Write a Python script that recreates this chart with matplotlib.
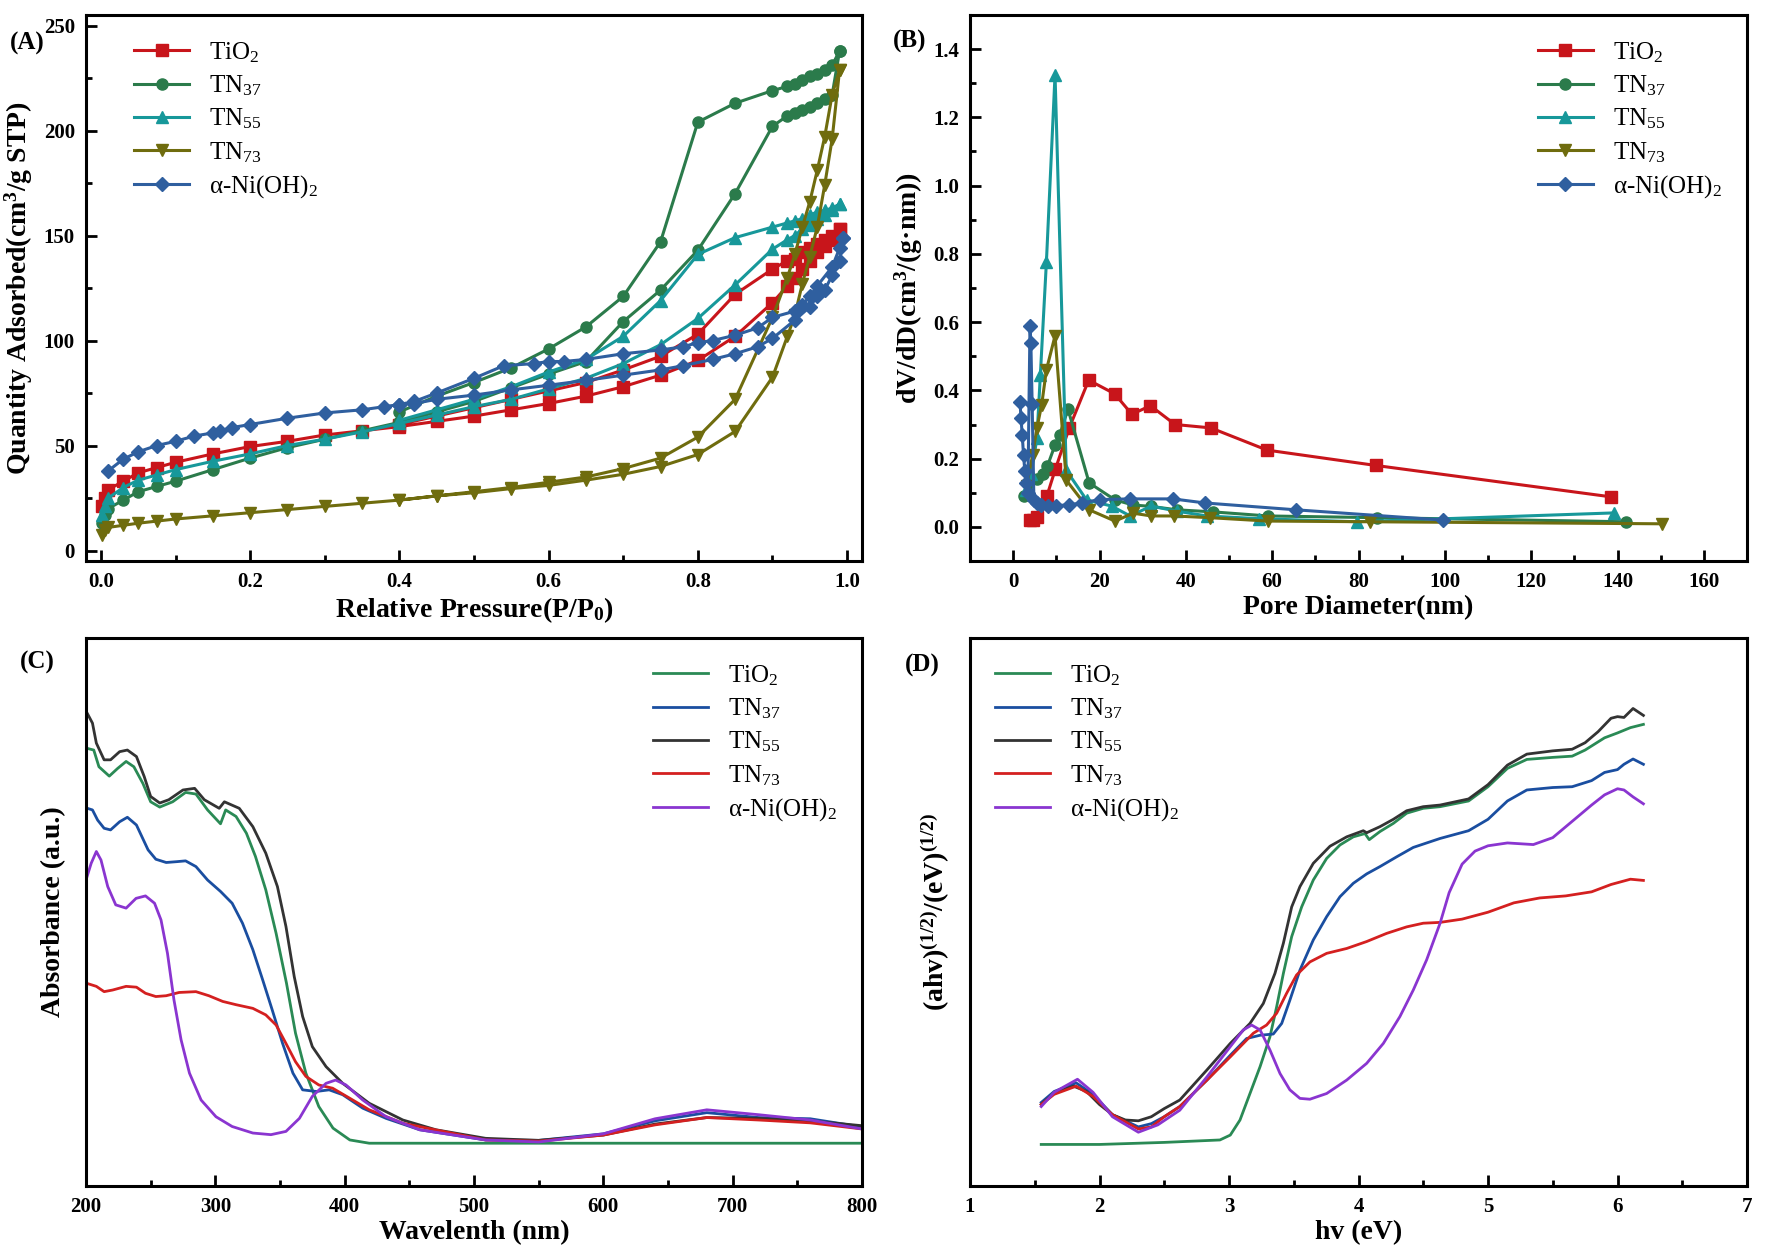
import matplotlib
matplotlib.use('Agg')
import matplotlib.pyplot as plt
from matplotlib.ticker import MultipleLocator

plt.rcParams['font.family'] = ['Liberation Serif', 'DejaVu Serif']
plt.rcParams['mathtext.fontset'] = 'custom'
plt.rcParams['mathtext.rm'] = 'Liberation Serif'
plt.rcParams['mathtext.it'] = 'Liberation Serif:italic'
plt.rcParams['mathtext.bf'] = 'Liberation Serif:bold'

labels = ['TiO$_2$', 'TN$_{37}$', 'TN$_{55}$', 'TN$_{73}$', 'α-Ni(OH)$_2$']

# ---- (A) N2 isotherms ----
p_ads = [0.001, 0.005, 0.01, 0.03, 0.05, 0.075, 0.1, 0.15, 0.2, 0.25, 0.3, 0.35, 0.4, 0.45, 0.5,
         0.55, 0.6, 0.65, 0.7, 0.75, 0.8, 0.85, 0.9, 0.92, 0.93, 0.94, 0.95, 0.96, 0.97, 0.98, 0.99]
p_des = [0.99, 0.98, 0.97, 0.96, 0.95, 0.94, 0.93, 0.92, 0.9, 0.85, 0.8, 0.75, 0.7, 0.65, 0.6,
         0.55, 0.5, 0.45, 0.4]

tio2_ads = [21, 25, 29, 33, 37, 39.5, 42, 46, 49.5, 52, 55, 57, 59, 61.5, 64, 67, 70, 73.5, 78,
            83.5, 90.5, 102, 118, 126, 130, 134, 138, 142, 145, 148, 153]
tio2_des = [153, 150, 148, 146, 144, 142, 139, 138, 134, 122, 103, 92.5, 86, 80, 76, 72, 68, 64, 60]

tn37_ads = [13, 17, 20, 24, 28, 30.5, 33, 38.5, 44, 49, 53, 57, 61, 66, 71, 77.5, 84, 90, 109, 124,
            143, 170, 202, 207, 208.5, 210, 211, 213, 215, 217, 238]
tn37_des = [238, 231, 229, 227, 226, 224, 222, 221, 219, 213, 204, 147, 121, 106.5, 96, 87, 80, 73.5, 66]

tn55_ads = [17, 21, 25, 30, 33.5, 36, 38.5, 42.5, 46, 50, 53, 56.5, 60.5, 64.5, 68.5, 72, 77, 82, 89,
            98, 110.5, 126.5, 143.5, 148, 150, 153, 155, 158, 160, 162, 165]
tn55_des = [165, 163, 162, 161, 160, 158, 157, 156, 154, 149, 141, 119, 102, 91, 85, 78, 72, 67, 62]

tn73_ads = [7.5, 10, 11, 12, 13, 14, 15, 16.5, 18, 19.5, 21, 22.5, 24, 26, 27.5, 29.5, 31, 33.5, 36.3,
            40, 45.7, 56.7, 82.5, 102, 112, 127, 140, 154, 174, 196, 229]
tn73_des = [229, 217, 197, 181, 166, 154, 141, 130, 111, 72, 54, 44, 39, 35, 32.5, 30, 28, 26, 24]

ni_p_ads = [0.01, 0.03, 0.05, 0.075, 0.1, 0.125, 0.15, 0.16, 0.175, 0.2, 0.25, 0.3, 0.35, 0.38, 0.4,
            0.42, 0.45, 0.5, 0.55, 0.6, 0.65, 0.7, 0.75, 0.78, 0.82, 0.85, 0.88, 0.9, 0.93, 0.95,
            0.96, 0.97, 0.98, 0.99, 0.995]
ni_ads = [38, 43.5, 47, 50, 52, 54.5, 56, 57, 58.5, 60, 63, 65.5, 67, 68.5, 69.5, 70, 72, 74, 76.5,
          78.7, 81, 83.5, 86, 88, 91, 93.7, 97, 101, 109.7, 116, 121, 124, 131, 138, 149]
ni_p_des = [0.995, 0.99, 0.98, 0.96, 0.95, 0.94, 0.93, 0.9, 0.88, 0.85, 0.82, 0.8, 0.78, 0.75, 0.7,
            0.65, 0.62, 0.6, 0.58, 0.54, 0.5, 0.45, 0.42, 0.4]
ni_des = [149, 144, 135, 126, 121, 117, 114, 111, 106, 102.5, 100, 99, 97, 95.5, 93.7, 91, 90, 90,
          89, 88, 82, 75, 71, 69.5]

# ---- (B) pore size distribution ----
tio2_d = [3.8, 4.5, 5.5, 7.8, 9.8, 13, 17.5, 23.5, 27.5, 31.8, 37.5, 45.8, 58.8, 84, 138.5]
tio2_v = [0.02, 0.02, 0.03, 0.09, 0.17, 0.29, 0.43, 0.39, 0.33, 0.355, 0.30, 0.29, 0.225, 0.18, 0.088]
tn37_d = [2.6, 3.5, 5.5, 6.8, 7.9, 9.7, 10.8, 12.7, 17.6, 23.6, 27.8, 32, 37.9, 46.2, 59, 84.2, 141.9]
tn37_v = [0.09, 0.10, 0.14, 0.155, 0.177, 0.24, 0.27, 0.345, 0.129, 0.079, 0.064, 0.06, 0.05, 0.044,
          0.032, 0.027, 0.015]
tn55_d = [2.9, 4.2, 5.5, 6.3, 7.7, 9.7, 12.3, 17, 22.8, 27.1, 32, 37.9, 44.9, 56.9, 79.6, 139.3]
tn55_v = [0.108, 0.155, 0.26, 0.446, 0.776, 1.325, 0.166, 0.079, 0.061, 0.032, 0.061, 0.046, 0.032,
          0.024, 0.015, 0.041]
tn73_d = [3.1, 4.5, 5.5, 6.6, 7.7, 9.7, 12.3, 17.6, 23.6, 27.8, 32, 37.2, 45.5, 59, 82.6, 150.4]
tn73_v = [0.12, 0.21, 0.29, 0.357, 0.46, 0.56, 0.137, 0.05, 0.017, 0.04, 0.032, 0.032, 0.027, 0.017,
          0.015, 0.009]
ni_d = [1.6, 1.8, 2.1, 2.4, 2.7, 3.0, 3.4, 3.9, 4.1, 4.4, 4.8, 5.5, 6.5, 8, 10, 13, 16, 20, 27, 37,
        44.5, 65.5, 99.5]
ni_v = [0.365, 0.32, 0.27, 0.21, 0.165, 0.13, 0.10, 0.59, 0.54, 0.36, 0.08, 0.07, 0.065, 0.06, 0.062,
        0.065, 0.07, 0.08, 0.082, 0.082, 0.07, 0.05, 0.02]

# ---- (C) UV-vis absorbance ----
wl_tio2 = [200, 201, 206, 210, 218, 224.5, 231, 237, 244, 250, 257, 267, 277, 285, 294, 304, 308,
           316, 324, 331, 339, 347, 355, 362, 370, 380, 391, 404, 419, 800]
abs_tio2 = [1.08, 1.074, 1.07, 1.029, 1.006, 1.025, 1.042, 1.029, 0.988, 0.943, 0.93, 0.943, 0.966,
            0.962, 0.923, 0.889, 0.923, 0.907, 0.866, 0.809, 0.727, 0.62, 0.498, 0.375, 0.277,
            0.195, 0.142, 0.113, 0.105, 0.105]
wl_tn37 = [200, 205, 209, 214, 219, 226, 232, 239, 248, 254, 262, 270, 277, 285, 294, 304, 313, 321,
           329, 336.6, 344, 352, 360, 367.5, 378, 388, 398.5, 414, 432, 458, 509, 550, 600, 640, 680,
           720, 760, 800]
abs_tn37 = [0.928, 0.923, 0.898, 0.878, 0.874, 0.894, 0.905, 0.886, 0.825, 0.802, 0.794, 0.796, 0.798,
            0.784, 0.751, 0.723, 0.694, 0.645, 0.58, 0.506, 0.432, 0.35, 0.277, 0.236, 0.232, 0.236,
            0.224, 0.191, 0.166, 0.138, 0.113, 0.112, 0.128, 0.16, 0.18, 0.168, 0.165, 0.145]
wl_tn55 = [200, 201, 205, 208, 214, 219, 226, 232, 239, 245, 250, 257, 264, 275, 284, 291.5, 303, 307,
           318.5, 329, 339, 348, 354.6, 361, 367.5, 375, 385.6, 398.5, 419, 445, 470.6, 509, 550,
           600, 640, 680, 720, 760, 800]
abs_tn55 = [1.165, 1.16, 1.136, 1.087, 1.046, 1.046, 1.066, 1.07, 1.054, 1.005, 0.956, 0.94, 0.948,
            0.972, 0.976, 0.948, 0.927, 0.943, 0.927, 0.882, 0.817, 0.735, 0.637, 0.514, 0.416,
            0.342, 0.293, 0.252, 0.203, 0.162, 0.138, 0.117, 0.112, 0.125, 0.152, 0.168, 0.166,
            0.16, 0.148]
wl_tn73 = [200, 208, 214, 220.6, 231, 239, 246, 254, 262, 272, 285, 295, 305.7, 316, 329, 339, 347,
           354.6, 362, 370, 380, 390.7, 403.6, 419, 445, 509, 550, 600, 640, 680, 720, 760, 800]
abs_tn73 = [0.498, 0.49, 0.477, 0.481, 0.49, 0.488, 0.473, 0.465, 0.467, 0.475, 0.477, 0.467, 0.453,
            0.445, 0.436, 0.42, 0.395, 0.35, 0.305, 0.269, 0.248, 0.24, 0.216, 0.187, 0.154, 0.113,
            0.11, 0.125, 0.15, 0.168, 0.162, 0.155, 0.14]
wl_ni = [200, 204, 208, 211.6, 216.8, 223, 231, 238.7, 246, 253, 258, 263, 268, 273.5, 280, 289, 300.5,
         313, 329, 343, 354.6, 365, 375, 385.6, 393, 401, 414, 432, 458, 509, 550, 600, 640, 680,
         720, 760, 800]
abs_ni = [0.751, 0.792, 0.821, 0.80, 0.735, 0.69, 0.682, 0.706, 0.712, 0.694, 0.653, 0.571, 0.457,
          0.359, 0.277, 0.211, 0.17, 0.146, 0.13, 0.126, 0.134, 0.166, 0.22, 0.252, 0.26, 0.248,
          0.211, 0.17, 0.138, 0.113, 0.108, 0.128, 0.165, 0.187, 0.175, 0.162, 0.14]

# ---- (D) Tauc plot ----
ev_tio2 = [1.55, 2.0, 2.5, 2.93, 3.01, 3.085, 3.162, 3.24, 3.316, 3.368, 3.42, 3.484, 3.561, 3.651,
           3.754, 3.857, 3.96, 4.05, 4.083, 4.166, 4.269, 4.372, 4.5, 4.63, 4.85, 5.0, 5.15, 5.3, 5.5,
           5.65, 5.75, 5.9, 6.0, 6.1, 6.2]
tauc_tio2 = [0.102, 0.102, 0.107, 0.113, 0.125, 0.162, 0.227, 0.293, 0.366, 0.44, 0.522, 0.612, 0.685,
             0.751, 0.804, 0.837, 0.857, 0.865, 0.85, 0.87, 0.89, 0.915, 0.927, 0.931, 0.945, 0.98,
             1.025, 1.047, 1.052, 1.055, 1.07, 1.10, 1.112, 1.125, 1.133]
ev_tn37 = [1.55, 1.65, 1.82, 1.95, 2.1, 2.3, 2.4, 2.5, 2.62, 2.83, 3.01, 3.136, 3.24, 3.342, 3.407,
           3.47, 3.548, 3.651, 3.754, 3.857, 3.96, 4.063, 4.166, 4.295, 4.423, 4.63, 4.85, 5.0, 5.15,
           5.3, 5.5, 5.65, 5.8, 5.9, 6.0, 6.05, 6.12, 6.2]
tauc_tn37 = [0.205, 0.232, 0.253, 0.225, 0.175, 0.145, 0.153, 0.17, 0.195, 0.26, 0.321, 0.362, 0.37,
             0.373, 0.399, 0.456, 0.53, 0.604, 0.661, 0.71, 0.743, 0.766, 0.784, 0.808, 0.831, 0.853,
             0.872, 0.90, 0.945, 0.972, 0.978, 0.98, 0.995, 1.015, 1.022, 1.035, 1.048, 1.035]
ev_tn55 = [1.55, 1.65, 1.8, 1.9, 2.0, 2.1, 2.2, 2.3, 2.4, 2.5, 2.62, 2.83, 3.01, 3.162, 3.265, 3.355,
           3.42, 3.484, 3.548, 3.651, 3.78, 3.909, 4.037, 4.063, 4.166, 4.269, 4.372, 4.5, 4.63, 4.85,
           5.0, 5.15, 5.3, 5.5, 5.65, 5.75, 5.85, 5.95, 6.0, 6.05, 6.12, 6.2]
tauc_tn55 = [0.20, 0.228, 0.245, 0.232, 0.20, 0.175, 0.162, 0.16, 0.17, 0.19, 0.211, 0.285, 0.35,
             0.399, 0.448, 0.522, 0.596, 0.685, 0.735, 0.792, 0.834, 0.857, 0.872, 0.867, 0.882, 0.90,
             0.921, 0.931, 0.935, 0.95, 0.985, 1.033, 1.06, 1.068, 1.072, 1.088, 1.115, 1.148, 1.152,
             1.15, 1.172, 1.155]
ev_tn73 = [1.55, 1.65, 1.82, 1.95, 2.1, 2.3, 2.4, 2.5, 2.62, 2.83, 3.01, 3.188, 3.29, 3.368, 3.445,
           3.522, 3.625, 3.754, 3.909, 4.063, 4.217, 4.372, 4.5, 4.63, 4.8, 5.0, 5.2, 5.4, 5.6, 5.8,
           5.95, 6.1, 6.2]
tauc_tn73 = [0.20, 0.225, 0.245, 0.22, 0.175, 0.14, 0.145, 0.17, 0.195, 0.26, 0.317, 0.375, 0.395,
             0.424, 0.473, 0.518, 0.55, 0.571, 0.583, 0.60, 0.62, 0.636, 0.645, 0.647, 0.655, 0.672,
             0.695, 0.707, 0.712, 0.722, 0.74, 0.753, 0.75]
ev_ni = [1.55, 1.65, 1.83, 1.95, 2.1, 2.3, 2.45, 2.62, 2.83, 3.01, 3.11, 3.175, 3.24, 3.316, 3.394,
         3.47, 3.548, 3.625, 3.754, 3.909, 4.063, 4.192, 4.32, 4.423, 4.526, 4.63, 4.7, 4.8, 4.9, 5.0,
         5.15, 5.35, 5.5, 5.65, 5.8, 5.9, 6.0, 6.05, 6.12, 6.2]
tauc_ni = [0.195, 0.23, 0.262, 0.23, 0.17, 0.132, 0.15, 0.186, 0.268, 0.342, 0.383, 0.395, 0.383,
           0.334, 0.276, 0.236, 0.215, 0.213, 0.227, 0.26, 0.301, 0.35, 0.416, 0.481, 0.555, 0.645,
           0.72, 0.79, 0.822, 0.835, 0.842, 0.838, 0.855, 0.895, 0.935, 0.96, 0.975, 0.972, 0.955,
           0.938]

# colours
ab_colors = ['#c8151b', '#2b7b4b', '#17989a', '#6f6c0e', '#2f5f9f']
ab_markers = ['s', 'o', '^', 'v', 'D']
cd_colors = ['#2a8a55', '#1a4ea0', '#333333', '#d42020', '#8a35d0']

fig = plt.figure(figsize=(17.66, 12.59), dpi=100)
W, H = 1766.0, 1259.0


def box(l, t, r, b):
    return [l / W, 1 - b / H, (r - l) / W, (b - t) / H]


axA = fig.add_axes(box(86, 15, 862, 561))
axB = fig.add_axes(box(970, 15, 1747, 561))
axC = fig.add_axes(box(86, 638, 862, 1186))
axD = fig.add_axes(box(970, 638, 1747, 1186))

for ax in [axA, axB, axC, axD]:
    for s in ax.spines.values():
        s.set_linewidth(2.2)
    ax.tick_params(which='major', direction='in', length=8, width=2, labelsize=15,
                   top=False, right=False, pad=8)
    ax.tick_params(which='minor', direction='in', length=4, width=2, top=False, right=False)

leg_kw = dict(frameon=False, fontsize=18, handlelength=2.2, labelspacing=0.35, borderaxespad=0.6)

# (A)
series_a = [(p_ads, tio2_ads, p_des, tio2_des), (p_ads, tn37_ads, p_des, tn37_des),
            (p_ads, tn55_ads, p_des, tn55_des), (p_ads, tn73_ads, p_des, tn73_des),
            (ni_p_ads, ni_ads, ni_p_des, ni_des)]
for i, (pa, va, pd, vd) in enumerate(series_a):
    axA.plot(list(pa) + list(pd), list(va) + list(vd), color=ab_colors[i], marker=ab_markers[i],
             ms=8 if ab_markers[i] != 'D' else 7, lw=2.2, label=labels[i])
axA.xaxis.set_minor_locator(MultipleLocator(0.1))
axA.yaxis.set_minor_locator(MultipleLocator(25))
axA.set_xticks([0.0, 0.2, 0.4, 0.6, 0.8, 1.0])
axA.set_xticklabels(['0.0', '0.2', '0.4', '0.6', '0.8', '1.0'], fontweight='bold')
axA.set_yticks([0, 50, 100, 150, 200, 250])
axA.set_yticklabels(['0', '50', '100', '150', '200', '250'], fontweight='bold')
axA.set_xlim(-0.02, 1.02)
axA.set_ylim(-5, 255)
axA.set_xlabel('Relative Pressure(P/P$_{\\mathbf{0}}$)', fontsize=20, fontweight='bold', labelpad=2)
axA.set_ylabel('Quantity Adsorbed(cm$^{\\mathbf{3}}$/g STP)', fontsize=20, fontweight='bold',
               labelpad=6)
axA.legend(loc='upper left', bbox_to_anchor=(0.03, 1.0), **leg_kw)

# (B)
series_b = [(tio2_d, tio2_v), (tn37_d, tn37_v), (tn55_d, tn55_v), (tn73_d, tn73_v), (ni_d, ni_v)]
for i, (d, v) in enumerate(series_b):
    axB.plot(d, v, color=ab_colors[i], marker=ab_markers[i],
             ms=8 if ab_markers[i] != 'D' else 7, lw=2.2, label=labels[i])
axB.xaxis.set_minor_locator(MultipleLocator(10))
axB.yaxis.set_minor_locator(MultipleLocator(0.1))
axB.set_xticks([0, 20, 40, 60, 80, 100, 120, 140, 160])
axB.set_xticklabels(['0', '20', '40', '60', '80', '100', '120', '140', '160'], fontweight='bold')
axB.set_yticks([0.0, 0.2, 0.4, 0.6, 0.8, 1.0, 1.2, 1.4])
axB.set_yticklabels(['0.0', '0.2', '0.4', '0.6', '0.8', '1.0', '1.2', '1.4'], fontweight='bold')
axB.set_xlim(-10, 170)
axB.set_ylim(-0.1, 1.5)
axB.set_xlabel('Pore Diameter(nm)', fontsize=20, fontweight='bold', labelpad=2)
axB.set_ylabel('dV/dD(cm$^{\\mathbf{3}}$/(g·nm))', fontsize=20, fontweight='bold', labelpad=6)
axB.legend(loc='upper right', **leg_kw)

# (C)
series_c = [(wl_tio2, abs_tio2), (wl_tn37, abs_tn37), (wl_tn55, abs_tn55), (wl_tn73, abs_tn73),
            (wl_ni, abs_ni)]
for i, (x, y) in enumerate(series_c):
    axC.plot(x, y, color=cd_colors[i], lw=2, label=labels[i])
axC.xaxis.set_minor_locator(MultipleLocator(50))
axC.set_xticks([200, 300, 400, 500, 600, 700, 800])
axC.set_xticklabels(['200', '300', '400', '500', '600', '700', '800'], fontweight='bold')
axC.set_xlim(200, 800)
axC.set_ylim(0, 1.345)
axC.set_yticks([])
axC.set_xlabel('Wavelenth (nm)', fontsize=20, fontweight='bold', labelpad=2)
axC.set_ylabel('Absorbance (a.u.)', fontsize=20, fontweight='bold', labelpad=14)
axC.legend(loc='upper right', **leg_kw)

# (D)
series_d = [(ev_tio2, tauc_tio2), (ev_tn37, tauc_tn37), (ev_tn55, tauc_tn55), (ev_tn73, tauc_tn73),
            (ev_ni, tauc_ni)]
for i, (x, y) in enumerate(series_d):
    axD.plot(x, y, color=cd_colors[i], lw=2, label=labels[i])
axD.xaxis.set_minor_locator(MultipleLocator(0.5))
axD.set_xticks([1, 2, 3, 4, 5, 6, 7])
axD.set_xticklabels(['1', '2', '3', '4', '5', '6', '7'], fontweight='bold')
axD.set_xlim(1, 7)
axD.set_ylim(0, 1.345)
axD.set_yticks([])
axD.set_xlabel('hv (eV)', fontsize=20, fontweight='bold', labelpad=2)
axD.set_ylabel('(ahv)$^{\\mathbf{(1/2)}}$/(eV)$^{\\mathbf{(1/2)}}$', fontsize=20, fontweight='bold',
               labelpad=14)
axD.legend(loc='upper left', **leg_kw)

# panel letters
fig.text(10 / W, 1 - 43 / H, '(A)', fontsize=18, fontweight='bold', va='center')
fig.text(893 / W, 1 - 41 / H, '(B)', fontsize=18, fontweight='bold', va='center')
fig.text(20 / W, 1 - 662 / H, '(C)', fontsize=18, fontweight='bold', va='center')
fig.text(905 / W, 1 - 665 / H, '(D)', fontsize=18, fontweight='bold', va='center')

fig.savefig('out.png', dpi=100)
